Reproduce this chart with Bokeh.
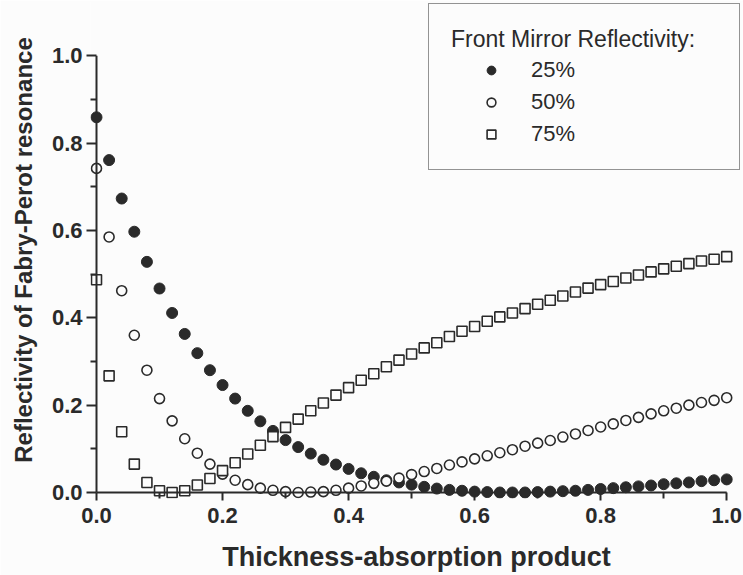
from bokeh.plotting import figure
from bokeh.models import Range1d, FixedTicker, Arrow, Legend, LegendItem, ColumnDataSource
from bokeh.embed import file_html
from bokeh.resources import INLINE

# ---- data ----
thickness = [0.00, 0.02, 0.04, 0.06, 0.08, 0.10, 0.12, 0.14, 0.16, 0.18,
             0.20, 0.22, 0.24, 0.26, 0.28, 0.30, 0.32, 0.34, 0.36, 0.38,
             0.40, 0.42, 0.44, 0.46, 0.48, 0.50, 0.52, 0.54, 0.56, 0.58,
             0.60, 0.62, 0.64, 0.66, 0.68, 0.70, 0.72, 0.74, 0.76, 0.78,
             0.80, 0.82, 0.84, 0.86, 0.88, 0.90, 0.92, 0.94, 0.96, 0.98, 1.00]

refl_25 = [0.859, 0.761, 0.673, 0.597, 0.528, 0.467, 0.411, 0.363, 0.319, 0.280,
           0.246, 0.215, 0.187, 0.163, 0.141, 0.120, 0.104, 0.089, 0.075, 0.064,
           0.054, 0.044, 0.036, 0.028, 0.023, 0.018, 0.013, 0.009, 0.006, 0.004,
           0.002, 0.001, 0.000, 0.000, 0.000, 0.001, 0.002, 0.003, 0.004, 0.006,
           0.008, 0.010, 0.012, 0.014, 0.016, 0.019, 0.021, 0.023, 0.026, 0.028, 0.030]

refl_50 = [0.742, 0.585, 0.462, 0.360, 0.280, 0.215, 0.164, 0.123, 0.090, 0.065,
           0.042, 0.028, 0.018, 0.010, 0.005, 0.002, 0.000, 0.001, 0.002, 0.005,
           0.010, 0.015, 0.021, 0.026, 0.033, 0.041, 0.048, 0.055, 0.063, 0.070,
           0.077, 0.084, 0.091, 0.098, 0.106, 0.113, 0.119, 0.127, 0.134, 0.142,
           0.150, 0.157, 0.165, 0.172, 0.180, 0.187, 0.193, 0.200, 0.206, 0.211, 0.217]

refl_75 = [0.487, 0.267, 0.139, 0.065, 0.023, 0.004, 0.000, 0.004, 0.017, 0.032,
           0.050, 0.068, 0.088, 0.108, 0.128, 0.149, 0.168, 0.187, 0.205, 0.223,
           0.240, 0.257, 0.272, 0.288, 0.303, 0.317, 0.331, 0.343, 0.357, 0.369,
           0.380, 0.392, 0.402, 0.411, 0.421, 0.431, 0.440, 0.450, 0.459, 0.468,
           0.476, 0.483, 0.491, 0.498, 0.505, 0.512, 0.518, 0.524, 0.530, 0.534, 0.540]

series_labels = ["25%", "50%", "75%"]
legend_title = "Front Mirror Reflectivity:"
x_title = "Thickness-absorption product"
y_title = "Reflectivity of Fabry-Perot resonance"

major_ticks = [0.0, 0.2, 0.4, 0.6, 0.8, 1.0]
minor_ticks = [0.1, 0.3, 0.5, 0.7, 0.9]
tick_labels = ["0.0", "0.2", "0.4", "0.6", "0.8", "1.0"]

# ---- style ----
BG = "#fcfcfc"
INK = "#2a2a2a"
FONT = "Liberation Sans, Arial, Helvetica, sans-serif"

p = figure(frame_width=652, frame_height=497,
           x_range=Range1d(-0.00952, 1.02507), y_range=Range1d(-0.01374, 1.12408),
           output_backend="svg", toolbar_location=None,
           min_border_left=90, min_border_right=1, min_border_top=1, min_border_bottom=77,
           background_fill_color=BG, border_fill_color=BG, outline_line_color=None)
p.grid.visible = False

src = ColumnDataSource(dict(x=thickness, r25=refl_25, r50=refl_50, r75=refl_75))

r1 = p.scatter("x", "r25", source=src, marker="circle", size=11,
               fill_color=INK, line_color=INK, line_width=1)
r2 = p.scatter("x", "r50", source=src, marker="circle", size=10,
               fill_color=BG, line_color=INK, line_width=1.6)
r3 = p.scatter("x", "r75", source=src, marker="square", size=10,
               fill_color=BG, line_color=INK, line_width=1.6)

# axis lines spanning exactly 0..1 in data space
p.add_layout(Arrow(end=None, x_start=0, y_start=0, x_end=1, y_end=0,
                   line_color=INK, line_width=2))
p.add_layout(Arrow(end=None, x_start=0, y_start=0, x_end=0, y_end=1,
                   line_color=INK, line_width=2))

labels_map = {t: s for t, s in zip(major_ticks, tick_labels)}
for ax in (p.xaxis[0], p.yaxis[0]):
    ax.ticker = FixedTicker(ticks=major_ticks, minor_ticks=minor_ticks)
    ax.major_label_overrides = labels_map
    ax.axis_line_color = None
    ax.major_tick_line_color = INK
    ax.minor_tick_line_color = INK
    ax.major_tick_line_width = 2
    ax.minor_tick_line_width = 2
    ax.major_label_text_font = FONT
    ax.major_label_text_font_style = "bold"
    ax.major_label_text_font_size = "22px"
    ax.major_label_text_color = INK
    ax.axis_label_text_font = FONT
    ax.axis_label_text_font_style = "bold"
    ax.axis_label_text_color = INK

xa = p.xaxis[0]
xa.axis_label = x_title
xa.axis_label_text_font_size = "27px"
xa.major_tick_in = 6
xa.major_tick_out = 2
xa.minor_tick_in = 6
xa.minor_tick_out = 0
xa.major_label_standoff = 7
xa.axis_label_standoff = 16

ya = p.yaxis[0]
ya.axis_label = y_title
ya.axis_label_text_font_size = "24px"
ya.major_tick_in = 6
ya.major_tick_out = 4
ya.minor_tick_in = 6
ya.minor_tick_out = 0
ya.major_label_standoff = 4
ya.axis_label_standoff = 12

legend = Legend(items=[LegendItem(label=series_labels[0], renderers=[r1]),
                       LegendItem(label=series_labels[1], renderers=[r2]),
                       LegendItem(label=series_labels[2], renderers=[r3])],
                location="top_right", title=legend_title)
legend.margin = 2
legend.padding = 22
legend.spacing = 6
legend.glyph_width = 80
legend.glyph_height = 22
legend.label_height = 22
legend.label_width = 186
legend.label_standoff = 0
legend.title_standoff = 4
legend.title_text_font = FONT
legend.title_text_font_style = "normal"
legend.title_text_font_size = "23px"
legend.title_text_color = INK
legend.label_text_font = FONT
legend.label_text_font_size = "22px"
legend.label_text_color = INK
legend.border_line_color = INK
legend.border_line_width = 1.5
legend.background_fill_color = BG
legend.background_fill_alpha = 1.0
p.add_layout(legend)

open("out.html", "w").write(file_html(p, INLINE))
